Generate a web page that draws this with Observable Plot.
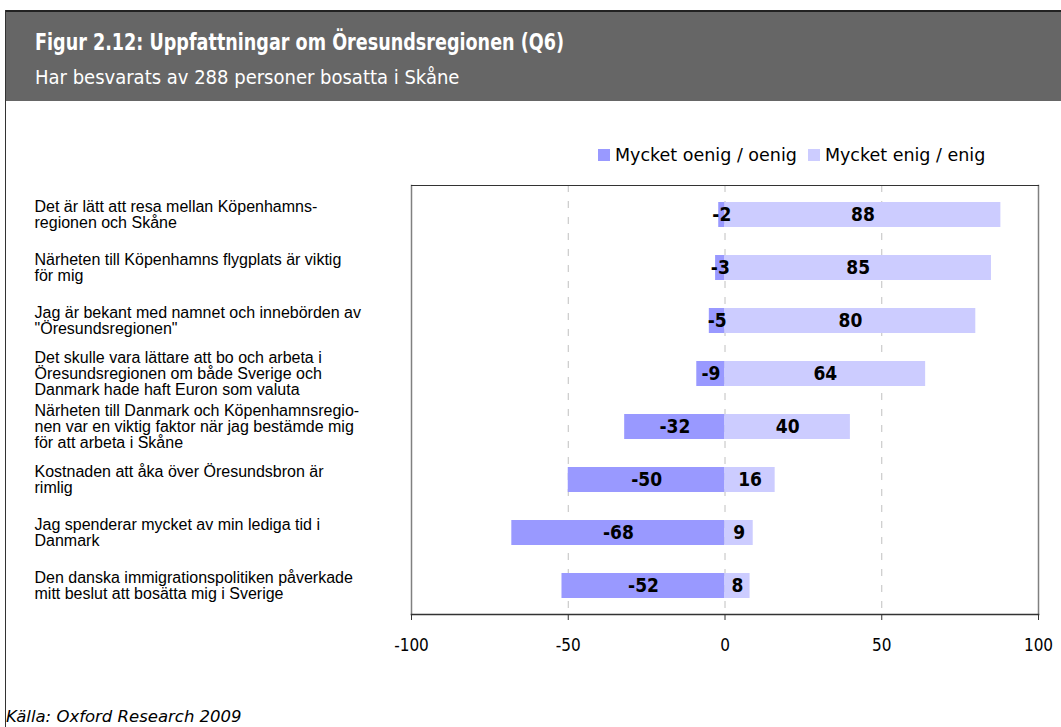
<!DOCTYPE html>
<html>
<head>
<meta charset="utf-8">
<script src="https://cdn.jsdelivr.net/npm/d3@7"></script>
<script src="https://cdn.jsdelivr.net/npm/@observablehq/plot@0.6"></script>
<style>
  html, body { margin: 0; padding: 0; background: #fff; width: 1061px; height: 727px; overflow: hidden; }
  #header { position: absolute; left: 6px; top: 10px; width: 1055px; height: 89px; background: #666666; border-top: 2px solid #222; }
  #title { position: absolute; left: 29px; top: 17px; color: #fff; font-family: "DejaVu Sans Condensed", "DejaVu Sans", sans-serif; font-weight: bold; font-size: 23px; white-space: nowrap; transform: scaleX(0.85); transform-origin: 0 0; }
  #subtitle { position: absolute; left: 29px; top: 53px; color: #fff; font-family: "DejaVu Sans Condensed", "DejaVu Sans", sans-serif; font-size: 20px; white-space: nowrap; }
  #leftline { position: absolute; left: 5px; top: 10px; width: 1px; height: 717px; background: #333; }
  #legend { position: absolute; left: 598px; top: 145px; font-family: "DejaVu Sans", sans-serif; font-size: 17.5px; color: #000; white-space: nowrap; display: flex; align-items: center; }
  .sw { display: inline-block; width: 12px; height: 12px; margin-right: 5px; }
  .item { display: inline-flex; align-items: center; margin-right: 11px; }
  #chart { position: absolute; left: 0; top: 180px; }
  #caption { position: absolute; left: 6px; top: 707px; font-family: "DejaVu Sans", sans-serif; font-style: italic; font-size: 16.5px; color: #000; white-space: nowrap; }
</style>
</head>
<body>
<div id="leftline"></div>
<div id="header">
  <div id="title">Figur 2.12: Uppfattningar om Öresundsregionen (Q6)</div>
  <div id="subtitle">Har besvarats av 288 personer bosatta i Skåne</div>
</div>
<div id="legend"></div>
<div id="chart"></div>
<div id="caption">Källa: Oxford Research 2009</div>
<script>
const statements = [
  "Det är lätt att resa mellan Köpenhamns-\nregionen och Skåne",
  "Närheten till Köpenhamns flygplats är viktig\nför mig",
  "Jag är bekant med namnet och innebörden av\n\"Öresundsregionen\"",
  "Det skulle vara lättare att bo och arbeta i\nÖresundsregionen om både Sverige och\nDanmark hade haft Euron som valuta",
  "Närheten till Danmark och Köpenhamnsregio-\nnen var en viktig faktor när jag bestämde mig\nför att arbeta i Skåne",
  "Kostnaden att åka över Öresundsbron är\nrimlig",
  "Jag spenderar mycket av min lediga tid i\nDanmark",
  "Den danska immigrationspolitiken påverkade\nmitt beslut att bosätta mig i Sverige"
];
const disagree = [-2, -3, -5, -9, -32, -50, -68, -52];
const agree = [88, 85, 80, 64, 40, 16, 9, 8];
const seriesNames = ["Mycket oenig / oenig", "Mycket enig / enig"];
const seriesColors = ["#9999FF", "#CCCCFF"];
const xTicks = [-100, -50, 0, 50, 100];
const gridTicks = [-50, 0, 50];

const rows = [];
statements.forEach((s, i) => {
  rows.push({statement: s, series: seriesNames[0], value: disagree[i]});
  rows.push({statement: s, series: seriesNames[1], value: agree[i]});
});

const font = "DejaVu Sans Condensed, DejaVu Sans, sans-serif";

const chart = Plot.plot({
  width: 1061,
  height: 490,
  marginLeft: 411,
  marginRight: 23,
  marginTop: 5,
  marginBottom: 56,
  style: {fontFamily: font, background: "transparent"},
  x: {domain: [-100, 100], ticks: xTicks, label: null},
  y: {domain: statements, paddingInner: 0.53, paddingOuter: 0.25, axis: null},
  color: {domain: seriesNames, range: seriesColors},
  marks: [
    Plot.ruleX(gridTicks, {stroke: "#c0c0c0", strokeDasharray: "7,9", strokeWidth: 1}),
    Plot.barX(rows, {x1: 0, x2: "value", y: "statement", fill: "series"}),
    Plot.text(rows, {
      x: d => d.value / 2, y: "statement", text: d => String(d.value),
      fontWeight: "bold", fontSize: 19, fill: "#000", fontFamily: font
    }),
    Plot.text(statements, {
      y: d => d, text: d => d, frameAnchor: "left", dx: -377, textAnchor: "start",
      lineAnchor: "middle", lineHeight: 1.0, fontSize: 16, fill: "#000",
      fontFamily: "Liberation Sans, Arial, sans-serif"
    }),
    Plot.frame({anchor: "left", stroke: "#808080", strokeWidth: 1.5}),
    Plot.frame({anchor: "right", stroke: "#808080", strokeWidth: 1.5}),
    Plot.frame({anchor: "top", stroke: "#333", strokeWidth: 1}),
    Plot.frame({anchor: "bottom", stroke: "#333", strokeWidth: 1.5}),
    Plot.axisX({ticks: xTicks, label: null, tickSize: 6, tickPadding: 18, fontSize: 17, stroke: "#333", fill: "#000", fontFamily: font, tickFormat: d => String(d)})
  ]
});
document.getElementById("chart").appendChild(chart);

const legend = document.getElementById("legend");
seriesNames.forEach((n, i) => {
  const it = document.createElement("span");
  it.className = "item";
  const sw = document.createElement("span");
  sw.className = "sw";
  sw.style.background = seriesColors[i];
  it.appendChild(sw);
  it.appendChild(document.createTextNode(n));
  legend.appendChild(it);
});
</script>
</body>
</html>
